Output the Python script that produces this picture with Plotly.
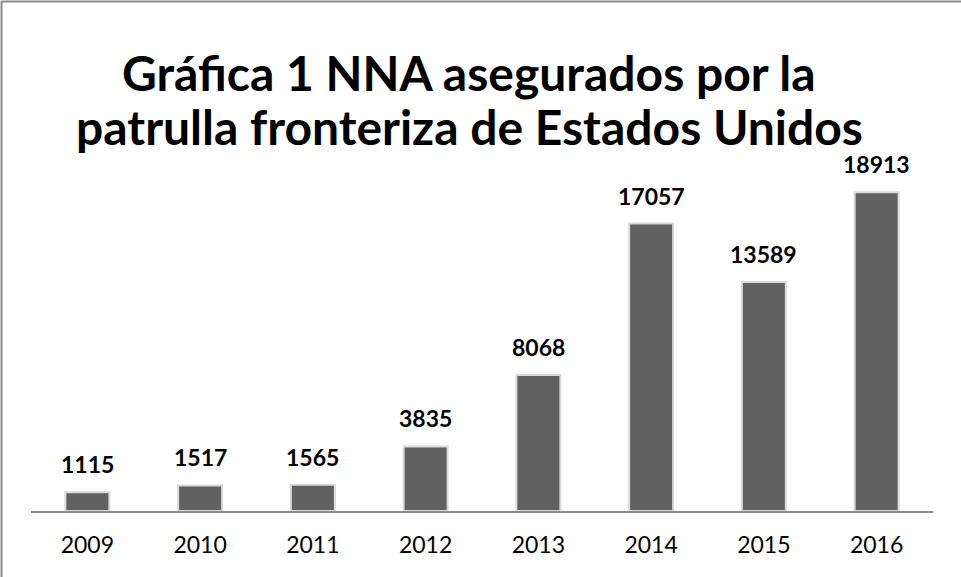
import plotly.graph_objects as go

years = ["2009", "2010", "2011", "2012", "2013", "2014", "2015", "2016"]
values = [1115, 1517, 1565, 3835, 8068, 17057, 13589, 18913]
title_lines = ["Gráfica 1 NNA asegurados por la", "patrulla fronteriza de Estados Unidos"]

W, H = 961, 577
L, R, T, B = 31, 28, 174, 66
FONT = "Lato"

xpos = [int(y) for y in years]

fig = go.Figure()
fig.add_trace(go.Bar(
    x=xpos, y=values,
    marker=dict(color="#616161", line=dict(color="#d9d9d9", width=2)),
    width=0.39,
    hoverinfo="skip",
))

for xp, v in zip(xpos, values):
    fig.add_annotation(
        x=xp, y=v, text=f"<b>{v}</b>", showarrow=False,
        yanchor="bottom", yshift=12,
        font=dict(family=FONT, size=23, color="#000000"),
    )

pw = W - L - R
ph = H - T - B
def px_to_paper_x(px):
    return (px - L) / pw
def px_to_paper_y(py):
    return (H - B - py) / ph

# title as two centred lines
for line, cy in zip(title_lines, [73, 127]):
    fig.add_annotation(
        xref="paper", yref="paper",
        x=px_to_paper_x(469), y=px_to_paper_y(cy),
        xanchor="center", yanchor="middle",
        text=f"<b>{line}</b>", showarrow=False,
        font=dict(family=FONT, size=48, color="#000000"),
    )

# outer border (top and left)
fig.add_shape(type="line", xref="paper", yref="paper",
              x0=px_to_paper_x(1), x1=px_to_paper_x(961),
              y0=px_to_paper_y(1.5), y1=px_to_paper_y(1.5),
              line=dict(color="#8c8c8c", width=2))
fig.add_shape(type="line", xref="paper", yref="paper",
              x0=px_to_paper_x(1.5), x1=px_to_paper_x(1.5),
              y0=px_to_paper_y(1), y1=px_to_paper_y(577),
              line=dict(color="#8c8c8c", width=2))

fig.update_layout(
    width=W, height=H,
    margin=dict(l=L, r=R, t=T, b=B, pad=0),
    paper_bgcolor="white", plot_bgcolor="white",
    showlegend=False,
    xaxis=dict(
        type="linear", range=[xpos[0] - 0.5, xpos[-1] + 0.5],
        tickmode="array", tickvals=xpos, ticktext=years,
        showline=True, linecolor="#8c8c8c", linewidth=1.5,
        showgrid=False, zeroline=False, ticks="", ticklen=0,
        ticklabelstandoff=13,
        tickfont=dict(family=FONT, size=23, color="#000000"),
        fixedrange=True,
    ),
    yaxis=dict(
        range=[0, 20000], visible=False, showgrid=False, fixedrange=True,
    ),
)

fig.write_html("out.html", config={"displayModeBar": False},
               post_script="document.body.style.margin='0';")
